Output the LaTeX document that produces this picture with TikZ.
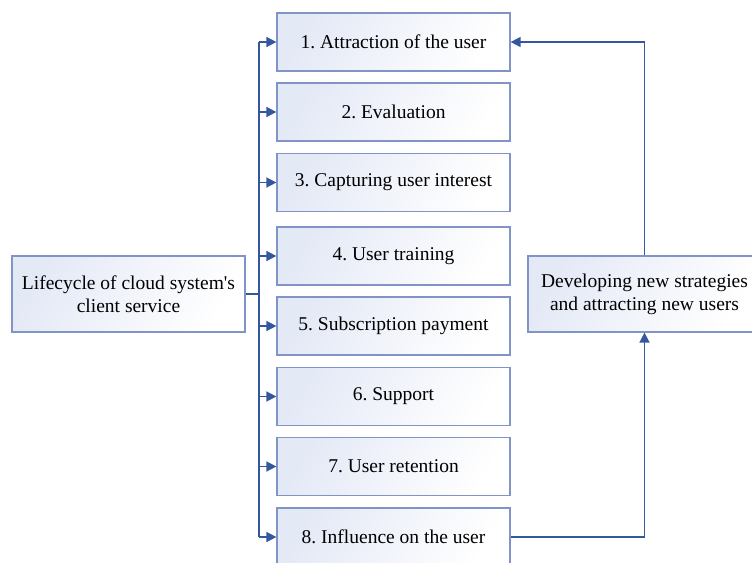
\documentclass[tikz,border=0pt]{standalone}
\usepackage{fontspec}
\setmainfont{Liberation Serif}
\usetikzlibrary{arrows.meta}

\definecolor{boxedge}{HTML}{8194C6}
\definecolor{boxtint}{HTML}{E4E9F6}
\definecolor{linkblue}{HTML}{3557A0}

\tikzset{
  stage/.style={
    draw=boxedge, line width=1.2pt,
    top color=boxtint, bottom color=white, shading angle=60,
    minimum width=233pt, minimum height=58pt, inner sep=0pt,
    align=center, font=\fontsize{19.5}{23}\selectfont
  },
  sidebox/.style={stage, minimum height=76pt},
  link/.style={draw=linkblue, line width=1.5pt},
  arr/.style={link, -{Triangle[length=10pt,width=10pt]}}
}

\begin{document}
\frenchspacing
\begin{tikzpicture}[x=1pt, y=-1pt]
  \clip (0,0) rectangle (752,562);
  \useasboundingbox (0,0) rectangle (752,562);

  % stages of the lifecycle
  \node[stage] (b1) at (393.5,42)    {1. Attraction of the user};
  \node[stage] (b2) at (393.5,112)   {2. Evaluation};
  \node[stage] (b3) at (393.5,182.5) {3. Capturing user interest};
  \node[stage] (b4) at (393.5,256)   {4. User training};
  \node[stage] (b5) at (393.5,326)   {5. Subscription payment};
  \node[stage] (b6) at (393.5,396.5) {6. Support};
  \node[stage] (b7) at (393.5,466.5) {7. User retention};
  \node[stage] (b8) at (393.5,537)   {8. Influence on the user};

  % side boxes
  \node[sidebox] (lc) at (128.5,294) {Lifecycle of cloud system\textquotesingle s\\client service};
  \node[sidebox] (dv) at (644.5,294) {Developing new strategies\\and attracting new users};

  % distribution trunk
  \coordinate (tr) at (259,294);
  \draw[link] (lc.east) -- (tr);
  \draw[link] (tr |- b1.west) -- (tr |- b8.west);
  \foreach \b in {b1,b2,b3,b4,b5,b6,b7,b8}
    \draw[arr] (tr |- \b.west) -- (\b.west);

  % feedback loop
  \draw[arr] (b8.east) -| (dv.south);
  \draw[arr] (dv.north) |- (b1.east);
\end{tikzpicture}
\end{document}
